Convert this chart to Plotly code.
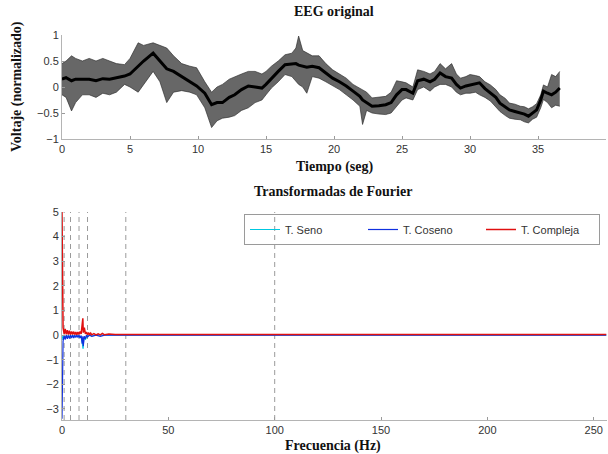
import plotly.graph_objects as go

# ---- EEG envelope (time s, upper, core, lower) ----
eeg_t = [0.0, 0.3, 0.7, 1.0, 1.5, 2.0, 2.5, 3.0, 3.5, 4.0, 4.6, 5.0, 5.6, 6.0, 6.7, 7.2, 7.7, 8.2,
         8.8, 9.4, 9.9, 10.5, 11.0, 11.4, 11.8, 12.3, 12.7, 13.2, 13.7, 14.2, 14.7, 15.0, 15.4, 15.9,
         16.4, 16.9, 17.2, 17.4, 17.7, 18.0, 18.4, 18.9, 19.4, 19.9, 20.4, 20.9, 21.4, 21.9, 22.1,
         22.4, 22.8, 23.3, 23.8, 24.2, 24.6, 25.0, 25.3, 25.8, 26.15, 26.6, 27.06, 27.4, 27.8, 28.2,
         28.65, 29.0, 29.3, 29.7, 30.0, 30.4, 30.7, 31.1, 31.5, 31.9, 32.2, 32.6, 32.9, 33.3, 33.7,
         34.0, 34.3, 34.6, 34.9, 35.2, 35.4, 35.7, 36.0, 36.3, 36.6]
eeg_up = [0.45, 0.5, 0.6, 0.55, 0.5, 0.55, 0.5, 0.55, 0.5, 0.45, 0.43, 0.55, 0.85, 0.8, 0.85, 0.8, 0.75, 0.6,
          0.45, 0.4, 0.37, 0.1, -0.1, 0.0, 0.05, 0.15, 0.2, 0.25, 0.3, 0.3, 0.25, 0.3, 0.4, 0.5,
          0.62, 0.65, 0.75, 0.98, 0.7, 0.65, 0.6, 0.6, 0.45, 0.33, 0.25, 0.17, 0.05, -0.02, -0.05,
          -0.1, -0.21, -0.2, -0.18, -0.1, 0.12, 0.1, 0.08, 0.0, 0.33, 0.3, 0.25, 0.3, 0.45, 0.35,
          0.45, 0.25, 0.17, 0.2, 0.24, 0.22, 0.2, 0.1, 0.04, -0.05, -0.15, -0.22, -0.31, -0.33, -0.37,
          -0.38, -0.42, -0.38, -0.32, -0.15, 0.04, 0.0, 0.24, 0.2, 0.3]
eeg_core = [0.15, 0.18, 0.12, 0.15, 0.15, 0.15, 0.12, 0.16, 0.15, 0.18, 0.21, 0.25, 0.4, 0.5, 0.65, 0.5, 0.35, 0.3,
            0.2, 0.1, 0.02, -0.12, -0.34, -0.3, -0.3, -0.2, -0.15, -0.05, 0.02, 0.0, -0.02, 0.05, 0.17, 0.3,
            0.43, 0.45, 0.45, 0.42, 0.4, 0.38, 0.4, 0.37, 0.27, 0.17, 0.1, 0.02, -0.08, -0.18, -0.25,
            -0.3, -0.37, -0.36, -0.34, -0.3, -0.15, -0.05, -0.05, -0.12, 0.12, 0.15, 0.1, 0.15, 0.27, 0.2,
            0.17, 0.05, -0.02, 0.02, 0.04, 0.06, 0.08, -0.03, -0.12, -0.2, -0.31, -0.38, -0.44, -0.47, -0.5,
            -0.52, -0.56, -0.5, -0.44, -0.25, -0.08, -0.12, -0.15, -0.1, -0.02]
eeg_low = [-0.15, -0.2, -0.46, -0.3, -0.15, -0.15, -0.2, -0.12, -0.15, -0.1, 0.05, 0.0, -0.1, 0.05, 0.3, 0.1, -0.3, -0.1,
           -0.07, -0.1, -0.15, -0.4, -0.78, -0.65, -0.6, -0.58, -0.55, -0.45, -0.4, -0.3, -0.25, -0.15, -0.02, 0.1,
           0.24, 0.2, 0.1, 0.05, 0.0, -0.12, 0.2, 0.17, 0.1, 0.02, -0.05, -0.15, -0.25, -0.37, -0.72,
           -0.45, -0.5, -0.52, -0.53, -0.5, -0.37, -0.25, -0.21, -0.25, -0.05, 0.0, -0.08, 0.0, 0.05, 0.05,
           0.0, -0.1, -0.15, -0.12, -0.12, -0.1, -0.15, -0.2, -0.27, -0.38, -0.47, -0.55, -0.6, -0.62, -0.63,
           -0.67, -0.69, -0.62, -0.58, -0.4, -0.24, -0.3, -0.4, -0.35, -0.37]

# ---- Fourier transforms (band extents at each bin) ----
f_red = [0, 0.5, 1, 1.5, 2, 2.5, 3, 3.5, 4, 4.5, 5, 5.5, 6, 6.5, 7, 7.5, 8, 8.5, 9, 9.5, 9.8, 10.0,
         10.5, 11, 11.5, 12, 12.5, 13, 13.5, 14, 15, 16, 17, 18, 19, 20, 22, 25, 30, 50, 100, 150, 200, 256]
v_red = [5.0, 0.3, 0.05, 0.25, 0.03, 0.2, 0.02, 0.18, 0.02, 0.15, 0.02, 0.14, 0.02, 0.12, 0.02, 0.12, 0.03,
         0.15, 0.05, 0.4, 0.68, 0.1, 0.3, 0.05, 0.12, 0.01, 0.1, 0.01, 0.08, 0.01, 0.06, 0.01, 0.05, 0.01,
         0.07, 0.01, 0.04, 0.02, 0.02, 0.02, 0.02, 0.02, 0.02, 0.02]
f_blue = [0, 0.5, 1, 1.5, 2, 2.5, 3, 3.5, 4, 4.5, 5, 5.5, 6, 6.5, 7, 7.5, 8, 8.5, 9, 9.5, 9.8, 10.0,
          10.5, 11, 11.5, 12, 13, 14, 16, 18, 20, 256]
v_blue = [-3.4, -0.25, -0.02, -0.18, 0.0, -0.15, -0.01, -0.14, 0.0, -0.12, -0.01, -0.12, 0.0, -0.1, -0.01,
          -0.1, 0.0, -0.12, -0.02, -0.35, -0.05, -0.45, -0.05, -0.15, 0.0, -0.08, 0.0, -0.05, 0.0, -0.05,
          0.0, 0.0]
f_cyan = [0, 0.5, 1, 2, 3, 4, 5, 6, 7, 8, 9, 9.5, 9.9, 10.3, 11, 12, 14, 16, 256]
v_cyan = [0.0, -0.2, 0.0, -0.1, 0.0, -0.08, 0.0, -0.08, 0.0, -0.1, -0.05, -0.3, -0.55, -0.1, -0.2, 0.0,
          -0.04, 0.0, 0.0]

band_lines = [1, 4, 8, 12, 30, 100]

W, H = 608, 454
def px_x(p):
    return p / W
def px_y(p):
    return 1 - p / H

fig = go.Figure()

# top: EEG
fig.add_trace(go.Scatter(x=eeg_t, y=eeg_low, mode="lines", line=dict(width=0.8, color="rgba(40,40,40,0.8)"),
                         showlegend=False, xaxis="x", yaxis="y", hoverinfo="skip"))
fig.add_trace(go.Scatter(x=eeg_t, y=eeg_up, mode="lines", line=dict(width=0.8, color="rgba(40,40,40,0.8)"),
                         fill="tonexty", fillcolor="rgba(45,45,45,0.72)",
                         showlegend=False, xaxis="x", yaxis="y", hoverinfo="skip"))
fig.add_trace(go.Scatter(x=eeg_t, y=eeg_core, mode="lines", line=dict(width=3, color="black"),
                         showlegend=False, xaxis="x", yaxis="y"))

# bottom: Fourier
fig.add_trace(go.Scatter(x=f_cyan, y=v_cyan, mode="lines", name="T. Seno",
                         line=dict(width=1, color="#00c8e0"), xaxis="x2", yaxis="y2"))
fig.add_trace(go.Scatter(x=f_blue, y=v_blue, mode="lines", name="T. Coseno",
                         line=dict(width=1.2, color="#1030e0"), xaxis="x2", yaxis="y2"))
fig.add_trace(go.Scatter(x=f_red, y=v_red, mode="lines", name="T. Compleja",
                         line=dict(width=1.5, color="#e01010"), xaxis="x2", yaxis="y2"))

for f in band_lines:
    fig.add_shape(type="line", xref="x2", yref="y2", x0=f, x1=f, y0=-3.45, y1=5,
                  line=dict(color="#9a9a9a", width=1, dash="5px,4px"), layer="below")

axis_common = dict(showline=True, linecolor="#b4b4b4", linewidth=1, ticks="inside", ticklen=3,
                   tickcolor="#9a9a9a", showgrid=False, zeroline=False,
                   tickfont=dict(family="Liberation Sans", size=11, color="#333333"), mirror=False)

fig.update_layout(
    width=W, height=H, margin=dict(l=0, r=0, t=0, b=0, autoexpand=False),
    paper_bgcolor="white", plot_bgcolor="white",
    xaxis=dict(domain=[px_x(62), px_x(606)], range=[0, 40], tickvals=[0, 5, 10, 15, 20, 25, 30, 35, 40],
               anchor="y", **axis_common),
    yaxis=dict(domain=[px_y(139), px_y(35)], range=[-1, 1], tickvals=[-1, -0.5, 0, 0.5, 1],
               anchor="x", **axis_common),
    xaxis2=dict(domain=[px_x(62), px_x(606.5)], range=[0, 256], tickvals=[0, 50, 100, 150, 200, 250],
                anchor="y2", **axis_common),
    yaxis2=dict(domain=[px_y(420), px_y(212)], range=[-3.45, 5], tickvals=[-3, -2, -1, 0, 1, 2, 3, 4, 5],
                anchor="x2", **axis_common),
    legend=dict(orientation="h", x=px_x(600), y=px_y(214), xanchor="right", yanchor="top",
                bgcolor="rgba(0,0,0,0)", bordercolor="#9a9a9a", borderwidth=1, traceorder="normal",
                font=dict(family="Liberation Sans", size=11, color="#333333"),
                entrywidth=73, entrywidthmode="pixels"),
)

title_font = dict(family="Liberation Serif", size=14, color="#111111")
annots = [
    ("<b>EEG original</b>", 334, 12, 0),
    ("<b>Tiempo (seg)</b>", 334, 167, 0),
    ("<b>Transformadas de Fourier</b>", 333, 192, 0),
    ("<b>Frecuencia (Hz)</b>", 333, 446, 0),
    ("<b>Voltaje (normalizado)</b>", 17, 87, -90),
]
for text, x, y, ang in annots:
    fig.add_annotation(text=text, x=px_x(x), y=px_y(y), xref="paper", yref="paper",
                       showarrow=False, textangle=ang, font=title_font,
                       xanchor="center", yanchor="middle")

fig.write_html("out.html")
